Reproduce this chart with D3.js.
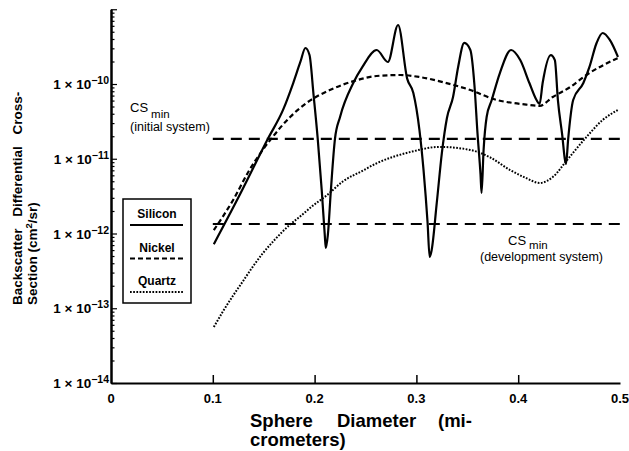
<!DOCTYPE html>
<html>
<head>
<meta charset="utf-8">
<script src="https://cdn.jsdelivr.net/npm/d3@7"></script>
<style>
  body { margin: 0; background: #fff; }
  svg { display: block; font-family: "Liberation Sans", Arial, sans-serif; }
  .bold { font-weight: bold; }
</style>
</head>
<body>
<svg id="chart" width="629" height="451"></svg>
<script>
// ---------------- DATA ----------------

// sphere diameter in micrometers, cross-section in cm^2/sr
const siliconD = [0.101, 0.127, 0.154, 0.169, 0.179, 0.186, 0.191, 0.195, 0.199, 0.203, 0.207, 0.210, 0.211, 0.213, 0.216,
  0.220, 0.225, 0.238, 0.247, 0.261, 0.272, 0.282, 0.291, 0.297, 0.303, 0.307, 0.311, 0.313, 0.315, 0.320,
  0.325, 0.330, 0.336, 0.341, 0.347, 0.353, 0.357, 0.360, 0.363, 0.364, 0.366, 0.369, 0.374, 0.382, 0.393,
  0.402, 0.411, 0.418, 0.421, 0.424, 0.432, 0.436, 0.439, 0.443, 0.447, 0.449, 0.454, 0.464, 0.470, 0.477,
  0.483, 0.490, 0.498];
const siliconCS = [7.2e-13, 3.4e-12, 1.84e-11, 4.5e-11, 1.03e-10, 1.97e-10, 3.03e-10, 2.44e-10, 7.1e-11, 1.9e-11, 3.8e-12, 9.5e-13, 6.4e-13, 9.5e-13, 3.8e-12,
  1.84e-11, 3.62e-11, 1.03e-10, 1.69e-10, 2.85e-10, 1.97e-10, 6.16e-10, 1.17e-10, 7.6e-11, 2.42e-11, 7.1e-12, 1.38e-12, 4.85e-13, 6.0e-13, 2.56e-12,
  1.19e-11, 3.51e-11, 6.7e-11, 1.69e-10, 3.54e-10, 2.85e-10, 9.7e-11, 2.21e-11, 6.1e-12, 3.48e-12, 1.31e-11, 3.62e-11, 6.1e-11, 1.40e-10, 2.85e-10,
  2.09e-10, 1.03e-10, 6.1e-11, 5.4e-11, 1.03e-10, 2.44e-10, 2.09e-10, 6.1e-11, 2.21e-11, 8.5e-12, 1.78e-11, 6.1e-11, 1.03e-10, 1.69e-10, 3.54e-10,
  4.81e-10, 3.88e-10, 2.30e-10];

const nickelD = [0.101, 0.120, 0.136, 0.149, 0.158, 0.176, 0.192, 0.215, 0.242, 0.261, 0.284, 0.303, 0.326, 0.353,
  0.379, 0.395, 0.408, 0.421, 0.434, 0.451, 0.467, 0.498];
const nickelCS = [1.11e-12, 2.81e-12, 7.07e-12, 1.31e-11, 1.9e-11, 3.62e-11, 5.57e-11, 8.3e-11, 1.13e-10, 1.28e-10, 1.32e-10, 1.24e-10, 1.06e-10, 8.3e-11,
  6.1e-11, 5.57e-11, 5.3e-11, 5.1e-11, 6.7e-11, 9.1e-11, 1.32e-10, 2.23e-10];

const quartzD = [0.101, 0.110, 0.120, 0.130, 0.139, 0.149, 0.161, 0.176, 0.186, 0.198, 0.212, 0.228, 0.247, 0.261,
  0.294, 0.323, 0.353, 0.372, 0.392, 0.408, 0.421, 0.434, 0.448, 0.467, 0.483, 0.498];
const quartzCS = [5.6e-14, 9.1e-14, 1.48e-13, 2.34e-13, 3.55e-13, 5.4e-13, 8.3e-13, 1.32e-12, 1.7e-12, 2.34e-12, 3.24e-12, 5.0e-12, 6.9e-12, 8.7e-12,
  1.23e-11, 1.44e-11, 1.31e-11, 1.05e-11, 7.07e-12, 5.5e-12, 4.74e-12, 5.7e-12, 9.6e-12, 1.95e-11, 3.3e-11, 4.5e-11];

// minimum detectable cross-sections (horizontal lines)
const csMinInitial = 1.84e-11;
const csMinDevelopment = 1.34e-12;
const csMinRange = [0.1, 0.5];

const xTickValues = [0, 0.1, 0.2, 0.3, 0.4, 0.5];
const xTickMarks = [0.1, 0.2, 0.3, 0.4];
const yExponents = [-14, -13, -12, -11, -10];

// ---------------- CHART ----------------

const svg = d3.select("#chart");

const x = d3.scaleLinear().domain([0, 0.5]).range([111, 620]);
const y = d3.scaleLog().domain([1e-14, 1e-9]).range([383, 9.25]);

const zip = (ds, vs) => ds.map((d, i) => ({ d, v: vs[i] }));
const line = d3.line().x(p => x(p.d)).y(p => y(p.v)).curve(d3.curveMonotoneX);

// minor ticks 2..9 per decade
const minorTicks = [];
for (let e = -14; e < -9; e++) {
  for (let k = 2; k <= 9; k++) minorTicks.push(k * Math.pow(10, e));
}
const majorTicks = [-14, -13, -12, -11, -10, -9].map(e => Math.pow(10, e));

const yMinor = svg.append("g").attr("transform", `translate(${x(0)},0)`)
  .call(d3.axisLeft(y).tickValues(minorTicks).tickSize(-3.5).tickSizeOuter(0).tickFormat(""));
const yMajor = svg.append("g").attr("transform", `translate(${x(0)},0)`)
  .call(d3.axisLeft(y).tickValues(majorTicks).tickSize(-6).tickSizeOuter(0).tickFormat(""));
[yMinor, yMajor].forEach(g => {
  g.selectAll("line").attr("stroke", "#000").attr("stroke-width", 1.2);
  g.select(".domain").attr("stroke", "#000").attr("stroke-width", 2);
});

const xAxis = svg.append("g").attr("transform", `translate(0,${y(1e-14)})`)
  .call(d3.axisBottom(x).tickValues(xTickMarks).tickSize(-8).tickSizeOuter(0).tickFormat(""));
xAxis.selectAll("line").attr("stroke", "#000").attr("stroke-width", 1.5);
xAxis.select(".domain").attr("stroke", "#000").attr("stroke-width", 2);

// y tick labels: 1 x 10^n
yExponents.forEach(e => {
  const t = svg.append("text")
    .attr("class", "bold")
    .attr("x", 109)
    .attr("y", y(Math.pow(10, e)) + 5)
    .attr("text-anchor", "end")
    .attr("font-size", 13.5);
  t.append("tspan").text("1 \u00d7 10");
  t.append("tspan").attr("dy", -5).attr("font-size", 10.5).text("\u2212" + Math.abs(e));
});

// x tick labels
svg.selectAll(".xlab").data(xTickValues).join("text")
  .attr("class", "bold")
  .attr("x", d => x(d))
  .attr("y", 403)
  .attr("text-anchor", "middle")
  .attr("font-size", 13)
  .text(d => d === 0 ? "0" : d3.format(".1f")(d));

// axis titles
const yTitle = svg.append("g").attr("transform", "translate(22,305) rotate(-90)");
yTitle.append("text").attr("class", "bold").attr("font-size", 13.5).attr("word-spacing", 8)
  .text("Backscatter Differential Cross-");
const yTitle2 = yTitle.append("text").attr("class", "bold").attr("font-size", 13.5).attr("y", 15);
yTitle2.append("tspan").text("Section (cm");
yTitle2.append("tspan").attr("dy", -5).attr("font-size", 9.5).text("2");
yTitle2.append("tspan").attr("dy", 5).text("/sr)");

[["Sphere", 250], ["Diameter", 337], ["(mi-", 438]].forEach(([w, px]) => {
  svg.append("text").attr("class", "bold").attr("font-size", 18.5).attr("x", px).attr("y", 427).text(w);
});
svg.append("text").attr("class", "bold").attr("font-size", 18.5).attr("x", 250).attr("y", 446).text("crometers)");

// CS min lines
[csMinInitial, csMinDevelopment].forEach(v => {
  svg.append("path")
    .datum(csMinRange.map(d => ({ d, v })))
    .attr("fill", "none")
    .attr("stroke", "#000")
    .attr("stroke-width", 2.2)
    .attr("stroke-dasharray", "11,7")
    .attr("d", d3.line().x(p => x(p.d)).y(p => y(p.v)));
});

// series
const seriesStyles = [
  { name: "Silicon", data: zip(siliconD, siliconCS), dash: null, width: 2.2 },
  { name: "Nickel", data: zip(nickelD, nickelCS), dash: "5,3", width: 2.2 },
  { name: "Quartz", data: zip(quartzD, quartzCS), dash: "1.7,1.5", width: 2 }
];

seriesStyles.forEach(s => {
  svg.append("path")
    .datum(s.data)
    .attr("fill", "none")
    .attr("stroke", "#000")
    .attr("stroke-width", s.width)
    .attr("stroke-dasharray", s.dash)
    .attr("stroke-linejoin", "round")
    .attr("d", line);
});

// annotations
function csLabel(px, py, note) {
  const t = svg.append("text").attr("x", px).attr("y", py).attr("font-size", 13);
  t.append("tspan").text("CS");
  t.append("tspan").attr("dx", 3).attr("dy", 6).attr("font-size", 11.5).text("min");
  svg.append("text").attr("x", px).attr("y", py + 19).attr("font-size", 12.5).text(note);
}
csLabel(130, 112, "(initial system)");
svg.append("text").attr("x", 508).attr("y", 245).attr("font-size", 13).text("CS")
  .append("tspan").attr("dx", 3).attr("dy", 4).attr("font-size", 11.5).text("min");
svg.append("text").attr("x", 480).attr("y", 261).attr("font-size", 12.5).text("(development system)");

// Legend
const legend = svg.append("g");
legend.append("rect").attr("x", 123).attr("y", 199).attr("width", 68).attr("height", 104)
  .attr("fill", "#fff").attr("stroke", "#000").attr("stroke-width", 1.5);
seriesStyles.forEach((s, i) => {
  legend.append("text").attr("class", "bold").attr("x", 157).attr("y", 218 + i * 33.5)
    .attr("text-anchor", "middle").attr("font-size", 12).text(s.name);
  legend.append("line").attr("x1", 130).attr("x2", 183)
    .attr("y1", 225 + i * 33.5).attr("y2", 225 + i * 33.5)
    .attr("stroke", "#000").attr("stroke-width", s.width)
    .attr("stroke-dasharray", s.dash);
});
</script>
</body>
</html>
